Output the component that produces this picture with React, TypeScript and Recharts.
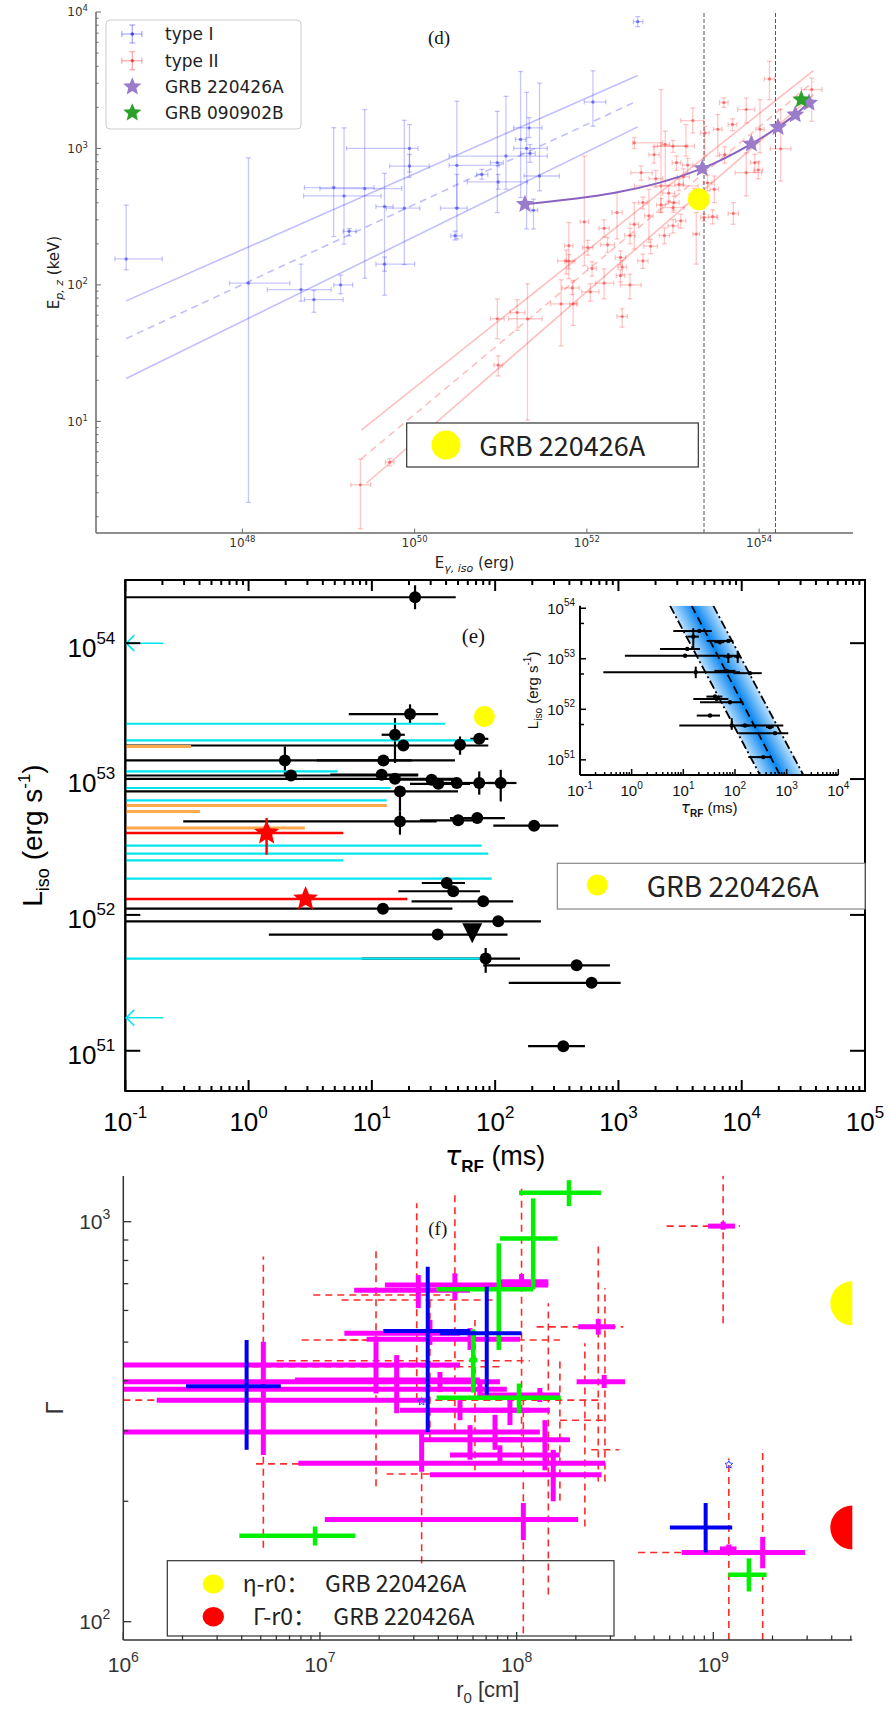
import React from "react";
import { ComposedChart, Scatter, Line, Area, XAxis, YAxis, ErrorBar, ReferenceLine, ReferenceArea, Label } from "recharts";

const pow = (v: number) => Math.pow(10, v);

// ---------- panel (d): E_p,z vs E_gamma,iso ----------
// type I bursts: log10 E_iso [erg] (value, low, high), Ep,z [keV] (value, low, high)
const t1LogE = [46.65, 48.07, 48.68, 48.83, 49.14, 49.06, 49.18, 49.42, 49.24, 49.94, 49.94, 49.65, 49.88, 49.65, 52.59, 52.07, 51.33, 51.23, 51.3, 51.34, 51.06, 50.96, 50.78, 50.49, 50.97, 51.45, 51.38, 50.49, 50.47];
const t1LogELo = [46.52, 47.85, 48.29, 48.72, 49.06, 48.72, 48.71, 48.9, 49.17, 49.21, 49.71, 49.55, 49.67, 49.55, 52.54, 51.97, 51.15, 51.17, 51.15, 51.23, 50.4, 50.88, 50.72, 50.4, 50.61, 51.27, 51.35, 50.3, 50.42];
const t1LogEHi = [47.07, 48.55, 49.03, 49.17, 49.28, 49.53, 49.61, 49.85, 49.32, 50.04, 50.17, 49.75, 50.06, 50.0, 52.65, 52.22, 51.48, 51.29, 51.54, 51.4, 51.54, 51.03, 50.85, 50.98, 51.31, 51.68, 51.43, 50.61, 50.55];
const t1Ep = [155, 103, 92.4, 78, 100, 517, 449, 508, 247, 1000, 743, 375, 365, 142, 8500, 2190, 1416, 1165, 1000, 920, 880, 787, 645, 752, 568, 628, 352, 365, 229];
const t1EpLo = [129, 2.55, 76, 63, 86, 226, 199, 112, 229, 671, 614, 84, 141, 126, 7810, 1455, 1202, 437, 257, 791, 502, 339, 594, 369, 502, 489, 257, 217, 213];
const t1EpHi = [385, 855, 142, 91, 118, 1420, 1416, 1928, 259, 1497, 904, 657, 1609, 160, 9250, 3707, 1683, 3664, 2577, 1069, 2410, 1871, 703, 2220, 645, 3013, 425, 645, 248];

// type II bursts
const t2LogE = [54.12, 54.25, 54.61, 53.85, 53.59, 53.69, 54.01, 53.23, 53.37, 53.52, 53.85, 53.95, 53.99, 53.7, 53.48, 53.36, 53.27, 53.15, 53.0, 52.91, 52.86, 52.63, 53.04, 53.17, 53.07, 53.01, 52.86, 52.72, 52.65, 52.55, 52.35, 51.97, 51.79, 52.01, 52.24, 52.39, 52.65, 52.74, 53.0, 53.09, 53.46, 53.0, 52.55, 52.41, 52.06, 51.79, 51.19, 51.31, 50.97, 51.7, 51.84, 51.83, 52.2, 52.41, 52.5, 52.39, 49.37, 49.71, 50.96, 51.76, 52.04, 52.8, 52.95, 53.12, 52.5, 52.9, 53.25, 52.2, 53.6, 52.78, 53.4];
const t2LogELo = [54.06, 54.13, 54.49, 53.75, 53.54, 53.64, 53.96, 53.09, 53.32, 53.47, 53.72, 53.9, 53.94, 53.64, 53.43, 53.32, 53.23, 52.82, 52.78, 52.86, 52.55, 52.51, 52.99, 53.11, 53.02, 52.95, 52.81, 52.67, 52.6, 52.5, 52.29, 51.92, 51.74, 51.95, 52.16, 52.33, 52.59, 52.66, 52.94, 53.03, 53.41, 52.88, 52.53, 52.36, 52.01, 51.74, 51.11, 51.09, 50.92, 51.58, 51.8, 51.71, 52.1, 52.35, 52.39, 52.34, 49.26, 49.66, 50.88, 51.66, 51.94, 52.72, 52.88, 53.05, 52.44, 52.84, 53.19, 52.14, 53.54, 52.72, 53.35];
const t2LogEHi = [54.18, 54.37, 54.73, 53.95, 53.64, 53.74, 54.06, 53.36, 53.42, 53.57, 54.03, 54.0, 54.04, 53.76, 53.53, 53.52, 53.31, 53.25, 53.17, 52.96, 53.29, 52.76, 53.09, 53.23, 53.12, 53.07, 52.91, 52.77, 52.7, 52.6, 52.41, 52.02, 51.84, 52.07, 52.32, 52.45, 52.71, 52.82, 53.06, 53.15, 53.51, 53.13, 52.88, 52.46, 52.11, 51.84, 51.28, 51.48, 51.02, 51.89, 51.88, 51.91, 52.31, 52.47, 52.63, 52.44, 49.49, 49.76, 51.04, 51.86, 52.14, 52.88, 53.02, 53.19, 52.56, 52.96, 53.31, 52.26, 53.66, 52.84, 53.45];
const t2Ep = [3230, 995, 2700, 1930, 2170, 1500, 1380, 1600, 1300, 1380, 665, 787, 695, 334, 502, 312, 236, 1040, 1040, 1070, 531, 665, 787, 755, 546, 401, 386, 321, 401, 278, 339, 290, 194, 188, 197, 159, 150, 192, 271, 295, 317, 369, 1100, 135, 132, 149, 62.8, 56.5, 25.8, 72.6, 72.6, 95, 103, 58.7, 100, 117, 3.43, 5.02, 56.5, 150, 89, 600, 470, 620, 230, 230, 450, 260, 900, 900, 560];
const t2EpLo = [2280, 577, 1580, 1540, 2000, 1350, 930, 1300, 880, 880, 449, 670, 600, 278, 401, 293, 142, 879, 936, 531, 339, 585, 692, 664, 491, 353, 340, 205, 360, 183, 217, 138, 111, 165, 173, 140, 132, 169, 240, 260, 280, 340, 1000, 119, 116, 131, 46.5, 10.2, 21.5, 35.7, 50.5, 85, 79, 49, 79, 105, 1.63, 4.72, 40.4, 120, 76, 520, 410, 540, 200, 200, 390, 225, 780, 780, 490];
const t2EpHi = [4350, 1930, 3280, 2340, 2350, 1650, 2280, 1980, 1455, 1770, 930, 905, 800, 401, 628, 331, 339, 1500, 1144, 1340, 2700, 745, 880, 846, 600, 449, 430, 502, 440, 401, 475, 879, 287, 212, 222, 178, 168, 216, 302, 330, 355, 400, 1200, 151, 148, 167, 78, 102, 30.2, 109, 108, 105, 131, 66.9, 120, 129, 5.3, 5.32, 79, 180, 102, 690, 540, 710, 260, 262, 510, 300, 1030, 1030, 640];

// Amati-type fits (endpoints), upper / best / lower
const t1FitLogE = [46.65, 52.59];
const t1FitUp = [76.4, 3427];
const t1FitMid = [40.4, 2239];
const t1FitLow = [20.6, 1439];
const t2FitLogE = [49.38, 54.63];
const t2FitUp = [8.63, 3726];
const t2FitMid = [5.31, 3083];
const t2FitLowLogE = [49.44, 54.63];
const t2FitLow = [3.52, 2477];

// GRB 220426A track, GRB 090902B, marked GRB 220426A point, vertical markers
const grbTrackLogE = [51.28, 53.34, 53.91, 54.22, 54.42, 54.58];
const grbTrackEp = [390, 714, 1081, 1430, 1770, 2158];
const grb090LogE = [54.49];
const grb090Ep = [2280];
const grbSunLogE = [53.3];
const grbSunEp = [425];
const dVLinesLogE = [53.36, 54.19];

// ---------- panel (e): L_iso vs tau_RF ----------
const eBlkTau = [22.4, 20.4, 15.4, 18.0, 51.9, 74.3, 1.97, 12.4, 2.21, 12.0, 15.4, 30.5, 34.6, 48.8, 74.3, 111, 16.9, 16.9, 50.2, 71.6, 207, 40.5, 45.7, 80, 12.3, 106, 34.2, 83.8, 458, 606, 357];
const eBlkTauLo = [0.1, 6.5, 12.0, 0.1, 46, 63, 0.1, 3.57, 0.1, 4.6, 0.1, 16.9, 20.4, 35.6, 62.5, 87.5, 0.1, 0.295, 24.5, 43, 96.6, 25.4, 16.4, 21, 0.1, 0.1, 1.46, 8.26, 80, 129, 185];
const eBlkTauHi = [47.9, 34.5, 18.5, 88, 58, 88, 47.2, 21.0, 23.7, 23.8, 48.7, 48.8, 62.5, 62.5, 109, 149, 50, 33.5, 75, 120, 325, 56.9, 75.3, 140, 45, 235, 126, 159, 853, 1042, 535];
const eBlkLogL = [54.338, 53.478, 53.326, 53.247, 53.252, 53.296, 53.137, 53.137, 53.026, 53.032, 53.002, 52.995, 52.965, 52.971, 52.971, 52.971, 52.909, 52.688, 52.696, 52.713, 52.657, 52.235, 52.174, 52.1, 52.046, 51.953, 51.855, 51.679, 51.629, 51.5, 51.034];
const eBlkLogLLo = [54.25, 53.41, 53.118, 53.247, 53.179, 53.296, 53.032, 53.137, 53.026, 53.032, 53.002, 52.995, 52.965, 52.971, 52.885, 52.835, 52.762, 52.59, 52.696, 52.713, 52.657, 52.235, 52.174, 52.1, 52.046, 51.953, 51.855, 51.574, 51.629, 51.5, 51.034];
const eBlkLogLHi = [54.426, 53.55, 53.449, 53.247, 53.313, 53.296, 53.24, 53.137, 53.026, 53.032, 53.002, 52.995, 52.965, 52.971, 53.056, 53.068, 52.909, 52.762, 52.696, 52.713, 52.657, 52.235, 52.174, 52.1, 52.046, 51.953, 51.855, 51.757, 51.629, 51.5, 51.034];
const eCyanTauHi = [39.2, 72.6, 5.28, 14.2, 13.2, 77.6, 87.8, 5.86, 93.7, 85.4];
const eCyanLogL = [53.407, 53.284, 53.056, 52.934, 52.843, 52.51, 52.451, 52.401, 52.267, 51.679];
const eOrangeTauHi = [0.341, 13.2, 0.404, 2.86];
const eOrangeLogL = [53.24, 52.806, 52.762, 52.64];
const eStarTau = [1.4, 2.9];
const eStarTauLo = [0.1, 0.1];
const eStarTauHi = [5.86, 19.4];
const eStarLogL = [52.603, 52.118];
const eStarLogLLo = [52.443, 52.118];
const eStarLogLHi = [52.713, 52.118];
const eArrowLogL = [54.0, 51.243];
const eTriTau = [65.2];
const eTriLogL = [51.879];
const eSunTau = [81.7];
const eSunLogL = [53.46];

// inset of (e)
const inTau = [20.4, 15.6, 74.3, 51.3, 11.9, 10.8, 74.3, 113, 17.4, 69, 195, 41, 44.3, 80, 32.9, 86.5, 476, 596, 353, 156];
const inTauLo = [6.4, 12, 28.3, 40, 3.54, 0.74, 60, 95, 0.283, 40, 92.9, 28, 15.6, 21, 18.2, 8.36, 400, 116, 181, 130];
const inTauHi = [35.4, 20, 92.9, 62, 21.0, 125, 90, 125, 125, 102, 329, 57, 74.3, 145, 51.3, 861, 560, 1076, 514, 190];
const inLogL = [53.551, 53.438, 53.353, 53.328, 53.195, 53.06, 53.043, 53.043, 52.734, 52.76, 52.715, 52.252, 52.206, 52.141, 51.876, 51.678, 51.647, 51.528, 51.054, 51.678];
const inLogLLo = [53.551, 53.209, 53.353, 53.328, 53.195, 53.06, 52.916, 52.916, 52.616, 52.76, 52.715, 52.252, 52.206, 52.141, 51.876, 51.594, 51.647, 51.528, 51.054, 51.678];
const inLogLHi = [53.551, 53.605, 53.353, 53.328, 53.195, 53.06, 53.11, 53.142, 52.845, 52.76, 52.715, 52.252, 52.206, 52.141, 51.876, 51.825, 51.647, 51.528, 51.054, 51.678];
const bandTau = [5.52, 38.0, 305, 2104];
const bandLogLo = [54.05, 52.44, 50.7, 50.7];
const bandLogHi = [54.05, 54.05, 52.31, 50.7];
const bandLeftTau = [5.52, 305];
const bandRightTau = [38.0, 2104];
const bandMidTau = [14.5, 743];
const bandEdgeLogL = [54.05, 50.7];

// ---------- panel (f): Gamma vs r0 ----------
const fMagLogR = [7.5, 7.686, 8.025, 7.559, 7.763, 6.712, 7.285, 7.39, 7.61, 7.813, 7.89, 7.517, 8.186, 8.034, 9.079, 9.251, 9.05, 8.415, 8.445, 7.966, 8.144, 8.118, 7.712, 7.763, 7.915];
const fMagLogRLo = [7.33, 7.174, 7.915, 7.124, 7.237, 6.17, 6.0, 6.873, 6.0, 6.0, 6.0, 6.89, 7.559, 7.025, 9.034, 8.839, 8.974, 8.313, 8.305, 7.763, 7.915, 7.813, 7.407, 7.508, 7.661];
const fMagLogRHi = [8.161, 7.763, 8.161, 7.712, 8.017, 7.559, 7.712, 7.813, 7.915, 7.95, 8.118, 8.449, 8.432, 8.313, 9.118, 9.466, 9.11, 8.5, 8.551, 8.169, 8.271, 8.22, 8.067, 8.017, 8.22];
const fMagG = [695, 674, 708, 526, 508, 358, 438, 402, 398, 381, 298, 249, 233, 180, 152, 149, 975, 546, 398, 338, 285, 369, 338, 285, 261];
const fMagGLo = [608, 637, 682, 492, 478, 261, 372, 332, 375, 365, 269, 237, 200, 160, 147, 136, 955, 522, 384, 310, 239, 354, 319, 254, 247];
const fMagGHi = [736, 743, 740, 568, 542, 501, 516, 464, 421, 397, 329, 301, 269, 198, 156, 163, 1000, 571, 414, 369, 319, 384, 358, 310, 276];
const fEtaLogR = [9.05, 8.415, 6.712, 7.285, 7.517, 8.034, 9.079, 9.251, 7.492, 7.686, 8.025, 7.559, 7.788, 8.22, 8.161, 8.347, 8.449];
const fEtaLogRLo = [8.763, 8.102, 6.675, 7.1, 7.339, 7.915, 8.618, 9.18, 6.966, 7.11, 6.907, 6.656, 6.78, 6.0, 8.017, 8.22, 8.38];
const fEtaLogRHi = [9.135, 8.542, 7.2, 7.5, 7.712, 8.22, 9.169, 9.33, 7.661, 7.915, 8.22, 7.915, 8.067, 8.424, 8.271, 8.45, 8.52];
const fEtaG = [975, 546, 248, 506, 234, 180, 149, 149, 656, 637, 506, 434, 449, 358, 285, 319, 269];
const fEtaGLo = [557, 224, 153, 218, 140, 93.6, 90, 90, 358, 301, 254, 285, 239, 201, 117, 173, 224];
const fEtaGHi = [1301, 891, 818, 866, 285, 358, 256, 269, 1112, 1178, 1223, 637, 568, 451, 625, 497, 682];
const fGreenLogR = [8.266, 8.084, 7.909, 8.012, 7.779, 6.975, 9.181];
const fGreenLogRLo = [8.012, 7.915, 7.593, 7.593, 7.76, 6.59, 9.076];
const fGreenLogRHi = [8.429, 8.208, 8.084, 8.224, 7.8, 7.18, 9.271];
const fGreenG = [1182, 908, 678, 363, 451, 164, 131];
const fGreenGLo = [1094, 678, 478, 332, 374, 155, 119];
const fGreenGHi = [1270, 1144, 883, 394, 538, 173, 144];
const fBlueLogR = [6.627, 7.548, 7.848, 8.961];
const fBlueLogRLo = [6.319, 7.322, 7.61, 8.779];
const fBlueLogRHi = [6.801, 7.763, 8.025, 9.096];
const fBlueG = [388, 533, 526, 172];
const fBlueGLo = [269, 298, 369, 149];
const fBlueGHi = [506, 772, 688, 198];
const fStarLogR = [9.079, 7.517];
const fStarG = [247, 355];
const fGrbR0 = 5.09e9;
const fGrbEta = 625;
const fGrbGamma = 172;

// ---------- helpers ----------
type Pt = { x: number; y: number; ex: [number, number]; ey: [number, number] };
function rows(x: number[], xLo: number[], xHi: number[], y: number[], yLo: number[], yHi: number[]): Pt[] {
  return x.map((v, i) => ({ x: v, y: y[i], ex: [v - xLo[i], xHi[i] - v], ey: [y[i] - yLo[i], yHi[i] - y[i]] }));
}
function limits(xHi: number[], y: number[], xFloor: number): Pt[] {
  return xHi.map((v, i) => ({ x: v, y: y[i], ex: [v - xFloor, 0], ey: [0, 0] }));
}
const pts = (x: number[], y: number[]) => x.map((v, i) => ({ x: v, y: y[i] }));
const isIn = (list: number[], v: number) => list.some((m) => Math.abs(v / m - 1) < 1e-6);

function logTicks(lo: number, hi: number, e0: number, e1: number, minors = [2, 3, 4, 5, 6, 7, 8, 9]) {
  const out: number[] = [];
  for (let e = e0; e <= e1; e++) {
    [1, ...minors].forEach((m) => {
      const v = m * pow(e);
      if (v >= lo * 0.9999 && v <= hi * 1.0001) out.push(v);
    });
  }
  return out;
}

type Side = "bottom" | "top" | "left" | "right";
interface TickCfg {
  side: Side; majors: number[]; major: number; minor: number; stroke: string; sw: number;
  font?: string; size?: number; sup?: number; gap?: number; fill?: string; rise?: number; drop?: number;
}
function logTick(c: TickCfg) {
  return (p: any) => {
    const x = Number(p.x), y = Number(p.y), v = Number(p.payload?.value);
    const isMajor = isIn(c.majors, v);
    const n = isMajor ? c.major : c.minor;
    const x2 = c.side === "left" ? x + n : c.side === "right" ? x - n : x;
    const y2 = c.side === "bottom" ? y - n : c.side === "top" ? y + n : y;
    const size = c.size ?? 0;
    let label: React.ReactNode = null;
    if (isMajor && size > 0) {
      const e = Math.round(Math.log10(v));
      const sup = <tspan dy={-size * (c.rise ?? 0.45)} fontSize={c.sup}>{e}</tspan>;
      label = c.side === "bottom" ? (
        <text x={x} y={y + (c.gap ?? 0)} textAnchor="middle" fontFamily={c.font} fontSize={size} fill={c.fill}>10{sup}</text>
      ) : (
        <text x={x - (c.gap ?? 0)} y={y + size * 0.36 + (c.drop ?? 0)} textAnchor="end" fontFamily={c.font} fontSize={size} fill={c.fill}>10{sup}</text>
      );
    }
    return (
      <g>
        <line x1={x} y1={y} x2={x2} y2={y2} stroke={c.stroke} strokeWidth={c.sw} />
        {label}
      </g>
    );
  };
}

// inward tick drawn at the top / right end of a full-height ReferenceLine
const topTick = (len: number, stroke: string, sw: number) => (p: any) => {
  const y = Math.min(Number(p.y1), Number(p.y2));
  return <line x1={p.x1} y1={y} x2={p.x1} y2={y + len} stroke={stroke} strokeWidth={sw} />;
};
const rightTick = (len: number, stroke: string, sw: number) => (p: any) => {
  const x = Math.max(Number(p.x1), Number(p.x2));
  return <line x1={x} y1={p.y1} x2={x - len} y2={p.y1} stroke={stroke} strokeWidth={sw} />;
};

function starPath(cx: number, cy: number, R: number, r: number) {
  let d = "";
  for (let i = 0; i < 10; i++) {
    const a = -Math.PI / 2 + (i * Math.PI) / 5;
    const rad = i % 2 ? r : R;
    d += (i ? "L" : "M") + (cx + rad * Math.cos(a)).toFixed(2) + "," + (cy + rad * Math.sin(a)).toFixed(2);
  }
  return d + "Z";
}
const noShape = () => <g />;
const dot = (r: number, fill: string, op = 1) => (p: any) => <circle cx={p.cx} cy={p.cy} r={r} fill={fill} fillOpacity={op} />;
const star = (R: number, fill: string) => (p: any) => <path d={starPath(p.cx, p.cy, R, R * 0.45)} fill={fill} />;
const hollowStar = (R: number, stroke: string) => (p: any) => <path d={starPath(p.cx, p.cy, R, R * 0.5)} fill="none" stroke={stroke} strokeWidth={1} />;
const triDown = (p: any) => <path d={`M${p.cx - 10},${p.cy - 8}L${p.cx + 10},${p.cy - 8}L${p.cx},${p.cy + 12}Z`} fill="#000" />;
const arrow = (p: any) => (
  <g stroke="#00e5ee" strokeWidth={1.6} fill="none">
    <line x1={p.cx} y1={p.cy} x2={p.cx + 38} y2={p.cy} />
    <polyline points={`${p.cx + 9},${p.cy - 8} ${p.cx + 1},${p.cy} ${p.cx + 9},${p.cy + 8}`} />
  </g>
);

// ---------- panel (d) ----------
const dDomX: [number, number] = [pow(46.3), pow(55.09)];
const dDomY: [number, number] = [1.52, 1e4];
const dTicksX = [1e48, 1e50, 1e52, 1e54];
const dTicksY = logTicks(1.52, 1e4, 0, 4);
const dMajY = [10, 100, 1000, 10000];
const dGray = "#6a6a6a";

function PanelD() {
  const t1 = rows(t1LogE.map(pow), t1LogELo.map(pow), t1LogEHi.map(pow), t1Ep, t1EpLo, t1EpHi);
  const t2 = rows(t2LogE.map(pow), t2LogELo.map(pow), t2LogEHi.map(pow), t2Ep, t2EpLo, t2EpHi);
  const fit = (e: number[], y: number[]) => pts(e.map(pow), y);
  const blue = "#0000ff";
  const red = "#ff0000";
  const fitProps = { dot: false, activeDot: false, isAnimationActive: false, type: "linear" as const, strokeWidth: 1.6, dataKey: "y" };
  return (
    <ComposedChart width={891} height={575} margin={{ top: 12, right: 38, bottom: 0, left: 0 }}>
      <XAxis dataKey="x" type="number" scale="log" domain={dDomX} ticks={dTicksX} interval={0} allowDataOverflow height={42}
        tickSize={0} tickMargin={0} tickLine={false} axisLine={{ stroke: dGray, strokeWidth: 1.5 }}
        tick={logTick({ side: "bottom", majors: dTicksX, major: 4.5, minor: 2, stroke: dGray, sw: 1, font: "DejaVu Sans", size: 12, sup: 8.5, gap: 14, fill: "#333", rise: 0.42 })}>
        <Label content={(p: any) => {
          const vb = p.viewBox;
          return (
            <text x={vb.x + vb.width / 2} y={vb.y + 35} textAnchor="middle" fontFamily="DejaVu Sans" fontSize={15} fill="#222">
              E<tspan fontSize={11} dy={4} fontStyle="italic">γ, iso</tspan><tspan dy={-4}> (erg)</tspan>
            </text>
          );
        }} />
      </XAxis>
      <XAxis xAxisId="top" orientation="top" type="number" scale="log" domain={dDomX} allowDataOverflow height={0} tick={false} tickLine={false} axisLine={{ stroke: dGray, strokeWidth: 1.5 }} />
      <YAxis dataKey="y" type="number" scale="log" domain={dDomY} ticks={dTicksY} interval={0} allowDataOverflow width={96}
        tickSize={0} tickMargin={0} tickLine={false} axisLine={{ stroke: dGray, strokeWidth: 1.5 }}
        tick={logTick({ side: "left", majors: dMajY, major: 5, minor: 2.5, stroke: dGray, sw: 1, font: "DejaVu Sans", size: 12, sup: 8.5, gap: 8, fill: "#333", rise: 0.42 })}>
        <Label content={(p: any) => {
          const vb = p.viewBox;
          return (
            <text transform={`translate(${vb.x + 59},${vb.y + vb.height / 2}) rotate(-90)`} textAnchor="middle" fontFamily="DejaVu Sans" fontSize={15} fill="#222">
              E<tspan fontSize={11} dy={4} fontStyle="italic">p, z</tspan><tspan dy={-4}> (keV)</tspan>
            </text>
          );
        }} />
      </YAxis>
      <YAxis yAxisId="right" orientation="right" type="number" scale="log" domain={dDomY} allowDataOverflow width={0} tick={false} tickLine={false} axisLine={{ stroke: dGray, strokeWidth: 1.5 }} />

      <Line {...fitProps} data={fit(t1FitLogE, t1FitUp)} stroke={blue} strokeOpacity={0.25} />
      <Line {...fitProps} data={fit(t1FitLogE, t1FitMid)} stroke={blue} strokeOpacity={0.25} strokeDasharray="7 5" />
      <Line {...fitProps} data={fit(t1FitLogE, t1FitLow)} stroke={blue} strokeOpacity={0.25} />
      <Line {...fitProps} data={fit(t2FitLogE, t2FitUp)} stroke={red} strokeOpacity={0.25} />
      <Line {...fitProps} data={fit(t2FitLogE, t2FitMid)} stroke={red} strokeOpacity={0.25} strokeDasharray="7 5" />
      <Line {...fitProps} data={fit(t2FitLowLogE, t2FitLow)} stroke={red} strokeOpacity={0.25} />

      {dVLinesLogE.map((e) => (
        <ReferenceLine key={e} x={pow(e)} stroke="#555" strokeWidth={1} strokeDasharray="4 2" />
      ))}

      <Scatter data={t2} shape={dot(1.6, "#ff4d4d", 0.7)} isAnimationActive={false}>
        <ErrorBar dataKey="ex" direction="x" width={2.5} stroke={red} strokeOpacity={0.22} strokeWidth={1.3} isAnimationActive={false} />
        <ErrorBar dataKey="ey" direction="y" width={2.5} stroke={red} strokeOpacity={0.22} strokeWidth={1.3} isAnimationActive={false} />
      </Scatter>
      <Scatter data={t1} shape={dot(1.7, "#4d4dff", 0.7)} isAnimationActive={false}>
        <ErrorBar dataKey="ex" direction="x" width={2.5} stroke={blue} strokeOpacity={0.22} strokeWidth={1.3} isAnimationActive={false} />
        <ErrorBar dataKey="ey" direction="y" width={2.5} stroke={blue} strokeOpacity={0.22} strokeWidth={1.3} isAnimationActive={false} />
      </Scatter>

      <Line data={pts(grbTrackLogE.map(pow), grbTrackEp)} dataKey="y" type="monotone" stroke="#8a63c2" strokeWidth={2} dot={false} activeDot={false} isAnimationActive={false} />
      <Scatter data={pts(grbTrackLogE.map(pow), grbTrackEp)} shape={star(9.5, "#9b7cca")} isAnimationActive={false} />
      <Scatter data={pts(grb090LogE.map(pow), grb090Ep)} shape={star(9.5, "#2ca02c")} isAnimationActive={false} />
      <Scatter data={pts(grbSunLogE.map(pow), grbSunEp)} shape={dot(11, "#ffff00")} isAnimationActive={false} />
    </ComposedChart>
  );
}

// ---------- panel (e) ----------
const eDomX: [number, number] = [0.1, 1e5];
const eDomY: [number, number] = [pow(50.704), pow(54.465)];
const eTicksX = logTicks(0.1, 1e5, -1, 5);
const eMajX = [0.1, 1, 10, 100, 1000, 1e4, 1e5];
const eTicksY = [1e51, 1e52, 1e53, 1e54];

function PanelE() {
  const blk = rows(eBlkTau, eBlkTauLo, eBlkTauHi, eBlkLogL.map(pow), eBlkLogLLo.map(pow), eBlkLogLHi.map(pow));
  const cyan = limits(eCyanTauHi, eCyanLogL.map(pow), 0.1);
  const orange = limits(eOrangeTauHi, eOrangeLogL.map(pow), 0.1);
  const stars = rows(eStarTau, eStarTauLo, eStarTauHi, eStarLogL.map(pow), eStarLogLLo.map(pow), eStarLogLHi.map(pow));
  const axis = { stroke: "#000", strokeWidth: 2 };
  const tk = { stroke: "#000", sw: 2, font: "Liberation Sans", size: 26, sup: 17, fill: "#000", rise: 0.5 };
  return (
    <ComposedChart width={891} height={620} margin={{ top: 20, right: 26, bottom: 0, left: 0 }}>
      <XAxis dataKey="x" type="number" scale="log" domain={eDomX} ticks={eTicksX} interval={0} allowDataOverflow height={89}
        tickSize={0} tickMargin={0} tickLine={false} axisLine={axis}
        tick={logTick({ ...tk, side: "bottom", majors: eMajX, major: 11, minor: 5, gap: 40 })}>
        <Label content={(p: any) => {
          const vb = p.viewBox;
          return (
            <text x={vb.x + vb.width / 2} y={vb.y + 74} textAnchor="middle" fontFamily="Liberation Sans" fontSize={27} fill="#000">
              <tspan fontStyle="italic" fontFamily="DejaVu Sans">τ</tspan><tspan fontSize={17} dy={7} fontWeight="bold">RF</tspan><tspan dy={-7}> (ms)</tspan>
            </text>
          );
        }} />
      </XAxis>
      <YAxis dataKey="y" type="number" scale="log" domain={eDomY} ticks={eTicksY} interval={0} allowDataOverflow width={125.3}
        tickSize={0} tickMargin={0} tickLine={false} axisLine={axis}
        tick={logTick({ ...tk, side: "left", majors: eTicksY, major: 15, minor: 0, gap: 10, drop: 4 })}>
        <Label content={(p: any) => {
          const vb = p.viewBox;
          return (
            <text transform={`translate(${vb.x + 42},${vb.y + vb.height / 2}) rotate(-90)`} textAnchor="middle" fontFamily="Liberation Sans" fontSize={28} fill="#000">
              L<tspan fontSize={18} dy={7}>iso</tspan><tspan dy={-7}> (erg s</tspan><tspan fontSize={17} dy={-12}>-1</tspan><tspan dy={12}>)</tspan>
            </text>
          );
        }} />
      </YAxis>
      <ReferenceArea x1={eDomX[0]} x2={eDomX[1]} y1={eDomY[0]} y2={eDomY[1]} fill="none" stroke="#000" strokeWidth={2} ifOverflow="visible" />
      {eTicksX.map((t) => (
        <ReferenceLine key={"tx" + t} x={t} ifOverflow="visible" shape={topTick(isIn(eMajX, t) ? 11 : 5, "#000", 2)} />
      ))}
      {eTicksY.map((t) => (
        <ReferenceLine key={"ty" + t} y={t} ifOverflow="visible" shape={rightTick(15, "#000", 2)} />
      ))}

      <Scatter data={blk} shape={dot(6, "#000")} isAnimationActive={false}>
        <ErrorBar dataKey="ex" direction="x" width={0} stroke="#000" strokeWidth={2.2} isAnimationActive={false} />
        <ErrorBar dataKey="ey" direction="y" width={0} stroke="#000" strokeWidth={2.2} isAnimationActive={false} />
      </Scatter>
      <Scatter data={cyan} shape={noShape} isAnimationActive={false}>
        <ErrorBar dataKey="ex" direction="x" width={0} stroke="#00e5ee" strokeWidth={2.2} isAnimationActive={false} />
      </Scatter>
      <Scatter data={orange} shape={noShape} isAnimationActive={false}>
        <ErrorBar dataKey="ex" direction="x" width={0} stroke="#ffaa4a" strokeWidth={3} isAnimationActive={false} />
      </Scatter>
      <Scatter data={stars} shape={star(13, "#ff0000")} isAnimationActive={false}>
        <ErrorBar dataKey="ex" direction="x" width={0} stroke="#ff0000" strokeWidth={2.5} isAnimationActive={false} />
        <ErrorBar dataKey="ey" direction="y" width={0} stroke="#ff0000" strokeWidth={2.5} isAnimationActive={false} />
      </Scatter>
      <Scatter data={pts(eTriTau, eTriLogL.map(pow))} shape={triDown} isAnimationActive={false} />
      <Scatter data={pts(eSunTau, eSunLogL.map(pow))} shape={dot(10.5, "#ffff00")} isAnimationActive={false} />
      <Scatter data={pts(eArrowLogL.map(() => 0.1), eArrowLogL.map(pow))} shape={arrow} isAnimationActive={false} />
    </ComposedChart>
  );
}

// ---------- inset of (e) ----------
const inDomX: [number, number] = [0.1, 1e4];
const inDomY: [number, number] = [pow(50.7), pow(54.05)];
const inTicksX = logTicks(0.1, 1e4, -1, 4);
const inMajX = [0.1, 1, 10, 100, 1000, 1e4];
const inTicksY = logTicks(pow(50.7), pow(54.05), 50, 54, [5]);
const inMajY = [1e51, 1e52, 1e53, 1e54];

function Inset() {
  const data = rows(inTau, inTauLo, inTauHi, inLogL.map(pow), inLogLLo.map(pow), inLogLHi.map(pow));
  const band = bandTau.map((t, i) => ({ x: t, r: [pow(bandLogLo[i]), pow(bandLogHi[i])] }));
  const edge = (tau: number[]) => pts(tau, bandEdgeLogL.map(pow));
  const axis = { stroke: "#000", strokeWidth: 2 };
  const tk = { stroke: "#000", sw: 1.5, font: "Liberation Sans", size: 15, sup: 10, fill: "#111", rise: 0.5 };
  const lineProps = { dataKey: "y", type: "linear" as const, stroke: "#000", strokeWidth: 1.8, dot: false, activeDot: false, isAnimationActive: false };
  return (
    <ComposedChart width={350} height={236} margin={{ top: 15.7, right: 11.7, bottom: 0, left: 0 }}>
      <defs>
        <linearGradient id="bandGrad" x1={0.338} y1={0.5} x2={0.562} y2={0.351}>
          <stop offset="0" stopColor="#b9e0ff" />
          <stop offset="0.5" stopColor="#0a86f0" />
          <stop offset="1" stopColor="#b9e0ff" />
        </linearGradient>
      </defs>
      <XAxis dataKey="x" type="number" scale="log" domain={inDomX} ticks={inTicksX} interval={0} allowDataOverflow height={51}
        tickSize={0} tickMargin={0} tickLine={false} axisLine={axis}
        tick={logTick({ ...tk, side: "bottom", majors: inMajX, major: 6, minor: 3, gap: 21 })}>
        <Label content={(p: any) => {
          const vb = p.viewBox;
          return (
            <text x={vb.x + vb.width / 2} y={vb.y + 38} textAnchor="middle" fontFamily="Liberation Sans" fontSize={15} fill="#111">
              <tspan fontStyle="italic" fontFamily="DejaVu Sans">τ</tspan><tspan fontSize={10} dy={4} fontWeight="bold">RF</tspan><tspan dy={-4}> (ms)</tspan>
            </text>
          );
        }} />
      </XAxis>
      <XAxis xAxisId="top" orientation="top" type="number" scale="log" domain={inDomX} ticks={inTicksX} interval={0} allowDataOverflow height={0}
        tickSize={0} tickMargin={0} tickLine={false} axisLine={axis}
        tick={logTick({ side: "top", majors: inMajX, major: 6, minor: 3, stroke: "#000", sw: 1.5 })} />
      <YAxis dataKey="y" type="number" scale="log" domain={inDomY} ticks={inTicksY} interval={0} allowDataOverflow width={80}
        tickSize={0} tickMargin={0} tickLine={false} axisLine={axis}
        tick={logTick({ ...tk, side: "left", majors: inMajY, major: 6, minor: 4, gap: 5 })}>
        <Label content={(p: any) => {
          const vb = p.viewBox;
          return (
            <text transform={`translate(${vb.x + 38},${vb.y + vb.height / 2}) rotate(-90)`} textAnchor="middle" fontFamily="Liberation Sans" fontSize={15} fill="#111">
              L<tspan fontSize={10} dy={4}>iso</tspan><tspan dy={-4}> (erg s</tspan><tspan fontSize={10} dy={-7}>-1</tspan><tspan dy={7}>)</tspan>
            </text>
          );
        }} />
      </YAxis>
      <YAxis yAxisId="right" orientation="right" type="number" scale="log" domain={inDomY} ticks={inTicksY} interval={0} allowDataOverflow width={0}
        tickSize={0} tickMargin={0} tickLine={false} axisLine={axis}
        tick={logTick({ side: "right", majors: inMajY, major: 6, minor: 4, stroke: "#000", sw: 1.5 })} />

      <Area data={band} dataKey="r" type="linear" stroke="none" fill="url(#bandGrad)" fillOpacity={1} isAnimationActive={false} />
      <Line {...lineProps} data={edge(bandLeftTau)} strokeDasharray="9 3 2 3" />
      <Line {...lineProps} data={edge(bandRightTau)} strokeDasharray="9 3 2 3" />
      <Line {...lineProps} data={edge(bandMidTau)} strokeDasharray="8 5" />
      <Scatter data={data} shape={dot(2.2, "#000")} isAnimationActive={false}>
        <ErrorBar dataKey="ex" direction="x" width={0} stroke="#000" strokeWidth={2} isAnimationActive={false} />
        <ErrorBar dataKey="ey" direction="y" width={0} stroke="#000" strokeWidth={2} isAnimationActive={false} />
      </Scatter>
    </ComposedChart>
  );
}

// ---------- panel (f) ----------
const fDomX: [number, number] = [1e6, 5.09e9];
const fDomY: [number, number] = [90, 1301];
const fTicksX = logTicks(1e6, 5.09e9, 6, 9);
const fMajX = [1e6, 1e7, 1e8, 1e9];
const fTicksY = logTicks(90, 1301, 2, 3);
const fMajY = [100, 1000];

function PanelF() {
  const mag = rows(fMagLogR.map(pow), fMagLogRLo.map(pow), fMagLogRHi.map(pow), fMagG, fMagGLo, fMagGHi);
  const eta = rows(fEtaLogR.map(pow), fEtaLogRLo.map(pow), fEtaLogRHi.map(pow), fEtaG, fEtaGLo, fEtaGHi);
  const green = rows(fGreenLogR.map(pow), fGreenLogRLo.map(pow), fGreenLogRHi.map(pow), fGreenG, fGreenGLo, fGreenGHi);
  const blue = rows(fBlueLogR.map(pow), fBlueLogRLo.map(pow), fBlueLogRHi.map(pow), fBlueG, fBlueGLo, fBlueGHi);
  const axis = { stroke: "#333", strokeWidth: 1.5 };
  const tk = { stroke: "#333", sw: 1.3, font: "Liberation Sans", size: 21, sup: 14, fill: "#333", rise: 0.48 };
  return (
    <ComposedChart width={891} height={549} margin={{ top: 11, right: 38.7, bottom: 0, left: 0 }}>
      <XAxis dataKey="x" type="number" scale="log" domain={fDomX} ticks={fTicksX} interval={0} allowDataOverflow height={74}
        tickSize={0} tickMargin={0} tickLine={false} axisLine={axis}
        tick={logTick({ ...tk, side: "bottom", majors: fMajX, major: 8, minor: 4.5, gap: 32 })}>
        <Label content={(p: any) => {
          const vb = p.viewBox;
          return (
            <text x={vb.x + vb.width / 2} y={vb.y + 57} textAnchor="middle" fontFamily="Liberation Sans" fontSize={22} fill="#333">
              r<tspan fontSize={15} dy={6}>0</tspan><tspan dy={-6}> [cm]</tspan>
            </text>
          );
        }} />
      </XAxis>
      <XAxis xAxisId="top" orientation="top" type="number" scale="log" domain={fDomX} ticks={fTicksX} interval={0} allowDataOverflow height={0}
        tickSize={0} tickMargin={0} tickLine={false} axisLine={axis}
        tick={logTick({ side: "top", majors: fMajX, major: 8, minor: 4.5, stroke: "#333", sw: 1.3 })} />
      <YAxis dataKey="y" type="number" scale="log" domain={fDomY} ticks={fTicksY} interval={0} allowDataOverflow width={123.3}
        tickSize={0} tickMargin={0} tickLine={false} axisLine={axis}
        tick={logTick({ ...tk, side: "left", majors: fMajY, major: 8, minor: 5, gap: 13 })}>
        <Label content={(p: any) => {
          const vb = p.viewBox;
          return (
            <text transform={`translate(${vb.x + 63},${vb.y + vb.height / 2}) rotate(-90)`} textAnchor="middle" fontFamily="Liberation Sans" fontSize={24} fill="#333">
              Γ
            </text>
          );
        }} />
      </YAxis>
      <YAxis yAxisId="right" orientation="right" type="number" scale="log" domain={fDomY} ticks={fTicksY} interval={0} allowDataOverflow width={0}
        tickSize={0} tickMargin={0} tickLine={false} axisLine={axis}
        tick={logTick({ side: "right", majors: fMajY, major: 9, minor: 6, stroke: "#333", sw: 1.3 })} />

      <Scatter data={eta} shape={noShape} isAnimationActive={false}>
        <ErrorBar dataKey="ex" direction="x" width={0} stroke="#ff2a2a" strokeWidth={1.6} strokeDasharray="7 5" isAnimationActive={false} />
        <ErrorBar dataKey="ey" direction="y" width={0} stroke="#ff2a2a" strokeWidth={1.6} strokeDasharray="7 5" isAnimationActive={false} />
      </Scatter>
      <Scatter data={mag} shape={noShape} isAnimationActive={false}>
        <ErrorBar dataKey="ex" direction="x" width={0} stroke="#ff00ff" strokeWidth={5} isAnimationActive={false} />
        <ErrorBar dataKey="ey" direction="y" width={0} stroke="#ff00ff" strokeWidth={5} isAnimationActive={false} />
      </Scatter>
      <Scatter data={green} shape={noShape} isAnimationActive={false}>
        <ErrorBar dataKey="ex" direction="x" width={0} stroke="#00f000" strokeWidth={4.5} isAnimationActive={false} />
        <ErrorBar dataKey="ey" direction="y" width={0} stroke="#00f000" strokeWidth={4.5} isAnimationActive={false} />
      </Scatter>
      <Scatter data={blue} shape={noShape} isAnimationActive={false}>
        <ErrorBar dataKey="ex" direction="x" width={0} stroke="#0000f0" strokeWidth={4} isAnimationActive={false} />
        <ErrorBar dataKey="ey" direction="y" width={0} stroke="#0000f0" strokeWidth={4} isAnimationActive={false} />
      </Scatter>
      <Scatter data={pts(fStarLogR.map(pow), fStarG)} shape={hollowStar(4, "#3344ff")} isAnimationActive={false} />
      <Scatter data={[{ x: fGrbR0, y: fGrbEta }]} shape={dot(22, "#ffff00")} isAnimationActive={false} />
      <Scatter data={[{ x: fGrbR0, y: fGrbGamma }]} shape={dot(22, "#ff0000")} isAnimationActive={false} />
    </ComposedChart>
  );
}

// ---------- legends & panel tags ----------
function ErrIcon({ cx, cy, color }: { cx: number; cy: number; color: string }) {
  return (
    <g stroke={color} strokeOpacity={0.3} strokeWidth={1.4}>
      <line x1={cx - 10.5} y1={cy} x2={cx + 9.5} y2={cy} />
      <line x1={cx} y1={cy - 9} x2={cx} y2={cy + 9} />
      <line x1={cx - 10.5} y1={cy - 3} x2={cx - 10.5} y2={cy + 3} />
      <line x1={cx + 9.5} y1={cy - 3} x2={cx + 9.5} y2={cy + 3} />
      <line x1={cx - 3} y1={cy - 9} x2={cx + 3} y2={cy - 9} />
      <line x1={cx - 3} y1={cy + 9} x2={cx + 3} y2={cy + 9} />
      <circle cx={cx} cy={cy} r={1.8} fill={color} fillOpacity={0.6} stroke="none" />
    </g>
  );
}

function Overlay() {
  const serif = "Liberation Serif";
  const cjk = "'Noto Sans CJK SC', 'Noto Sans', sans-serif";
  const dv = "DejaVu Sans";
  return (
    <svg width={891} height={1714} style={{ position: "absolute", left: 0, top: 0, pointerEvents: "none" }}>
      {/* (d) */}
      <rect x={106} y={20} width={195} height={109} rx={4} fill="#fff" fillOpacity={0.85} stroke="#cccccc" />
      <ErrIcon cx={132.3} cy={34} color="#0000ff" />
      <ErrIcon cx={132.3} cy={60.7} color="#ff0000" />
      <path d={starPath(132.3, 86.7, 9.5, 4.3)} fill="#9b7cca" />
      <path d={starPath(132.3, 112.7, 9.5, 4.3)} fill="#2ca02c" />
      <g fontFamily={dv} fontSize={17} fill="#222">
        <text x={165} y={40}>type I</text>
        <text x={165} y={66.7}>type II</text>
        <text x={165} y={92.7}>GRB 220426A</text>
        <text x={165} y={118.7}>GRB 090902B</text>
      </g>
      <text x={428} y={44} fontFamily={serif} fontSize={19} fill="#111">(d)</text>
      <rect x={406.7} y={423} width={291.6} height={44} fill="#fff" stroke="#333" strokeWidth={1.2} />
      <circle cx={446} cy={445} r={14.5} fill="#ffff00" />
      <text x={479.3} y={455.5} fontFamily={cjk} fontSize={27} fill="#222">GRB 220426A</text>

      {/* (e) */}
      <text x={461.7} y={643} fontFamily={serif} fontSize={21} fill="#111">(e)</text>
      <rect x={557.3} y={863.3} width={307.7} height={45.7} fill="#fff" stroke="#888" strokeWidth={1.2} />
      <circle cx={597.3} cy={885} r={10.5} fill="#ffff00" />
      <text x={646.7} y={896.7} fontFamily={cjk} fontSize={28} fill="#222">GRB 220426A</text>

      {/* (f) */}
      <text x={428.3} y={1235} fontFamily={serif} fontSize={19} fill="#111">(f)</text>
      <rect x={167.3} y={1560.7} width={446.7} height={75.3} fill="none" stroke="#333" strokeWidth={1.2} />
      <ellipse cx={213.3} cy={1584} rx={10.7} ry={9.7} fill="#ffff00" />
      <ellipse cx={213.3} cy={1616.7} rx={10.7} ry={9.7} fill="#ff0000" />
      <g fontFamily={cjk} fontSize={23} fill="#222">
        <text x={242.7} y={1591.7}>η-r0：<tspan x={325}>GRB 220426A</tspan></text>
        <text x={253} y={1625}>Γ-r0：<tspan x={333.3}>GRB 220426A</tspan></text>
      </g>
    </svg>
  );
}

export default function App() {
  return (
    <div style={{ position: "absolute", left: 0, top: 0, width: 891, height: 1714, background: "#fff", overflow: "hidden" }}>
      <div style={{ position: "absolute", left: 0, top: 0 }}><PanelD /></div>
      <div style={{ position: "absolute", left: 0, top: 560 }}><PanelE /></div>
      <div style={{ position: "absolute", left: 500, top: 590 }}><Inset /></div>
      <div style={{ position: "absolute", left: 0, top: 1165 }}><PanelF /></div>
      <Overlay />
    </div>
  );
}
